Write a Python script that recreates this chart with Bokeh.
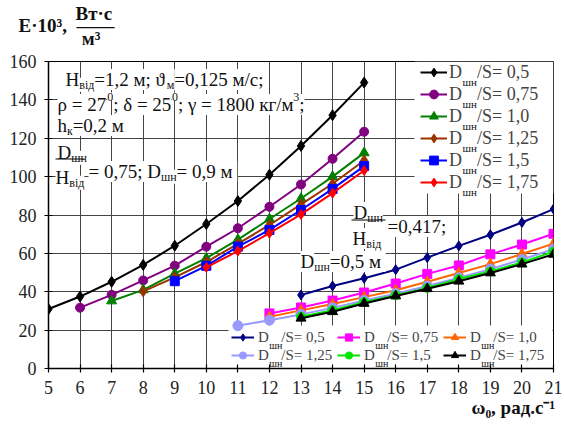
from bokeh.plotting import figure
from bokeh.models import (Range1d, FixedTicker, Label, Legend, LegendItem, Arrow, Title,
                          BoxAnnotation)
from bokeh.embed import file_html
from bokeh.resources import INLINE

# ---------------- data ----------------
x_ticks = [5, 6, 7, 8, 9, 10, 11, 12, 13, 14, 15, 16, 17, 18, 19, 20, 21]
y_ticks = [0, 20, 40, 60, 80, 100, 120, 140, 160]

# group 1: D_шн/H_від = 0,75; D_шн = 0,9 м
x1_05 = [5, 6, 7, 8, 9, 10, 11, 12, 13, 14, 15]
y1_05 = [31.0, 37.5, 45.2, 54.0, 64.0, 75.3, 87.3, 101.0, 116.0, 132.0, 149.0]
x1_075 = [6, 7, 8, 9, 10, 11, 12, 13, 14, 15]
y1_075 = [31.7, 38.4, 45.9, 53.6, 63.5, 73.1, 84.3, 95.9, 109.3, 123.4]
x1_10 = [7, 8, 9, 10, 11, 12, 13, 14, 15]
y1_10 = [35.2, 41.0, 49.4, 57.5, 67.2, 77.9, 88.6, 100.0, 112.4]
x1_125 = [8, 9, 10, 11, 12, 13, 14, 15]
y1_125 = [40.2, 47.5, 55.5, 65.0, 74.8, 85.5, 96.3, 108.4]
x1_15 = [9, 10, 11, 12, 13, 14, 15]
y1_15 = [45.5, 53.5, 63.5, 72.2, 82.6, 93.6, 105.5]
x1_175 = [10, 11, 12, 13, 14, 15]
y1_175 = [52.7, 61.2, 70.5, 80.3, 91.4, 103.2]

# group 2: D_шн/H_від = 0,417; D_шн = 0,5 м
x2_05 = [13, 14, 15, 16, 17, 18, 19, 20, 21]
y2_05 = [38.3, 43.0, 47.0, 51.5, 57.8, 63.9, 69.7, 76.1, 83.1]
x2_075 = [12, 13, 14, 15, 16, 17, 18, 19, 20, 21]
y2_075 = [28.7, 31.8, 35.4, 39.6, 44.3, 49.3, 53.7, 59.5, 64.6, 70.2]
x2_10 = [12, 13, 14, 15, 16, 17, 18, 19, 20, 21]
y2_10 = [27.0, 30.3, 33.6, 37.2, 40.8, 45.2, 49.8, 54.4, 59.7, 65.1]
x2_125 = [11, 12, 13, 14, 15, 16, 17, 18, 19, 20, 21]
y2_125 = [22.3, 25.2, 28.2, 31.6, 35.4, 39.0, 43.0, 47.3, 51.8, 56.8, 62.2]
x2_15 = [13, 14, 15, 16, 17, 18, 19, 20, 21]
y2_15 = [27.0, 30.4, 34.6, 38.2, 42.0, 46.6, 50.6, 55.3, 60.9]
x2_175 = [13, 14, 15, 16, 17, 18, 19, 20, 21]
y2_175 = [26.2, 29.6, 33.9, 37.8, 41.6, 45.5, 49.8, 54.4, 59.5]

ratio_labels = ["0,5", "0,75", "1,0", "1,25", "1,5", "1,75"]

# ---------------- figure ----------------
FONT = "Liberation Serif"
FL, FB, FR, FT = 48, 368, 553, 61  # page position of the frame edges
X0, X1, Y0, Y1 = 5, 21, 0, 160

p = figure(width=562, height=430, output_backend="svg", toolbar_location=None,
           x_range=Range1d(X0, X1), y_range=Range1d(Y0, Y1),
           min_border_left=FL, min_border_right=562 - FR, min_border_top=FT,
           min_border_bottom=430 - FB)
p.background_fill_color = "white"
p.border_fill_color = "white"
p.outline_line_color = "black"
p.outline_line_width = 1


def dx(px):  # page pixel -> data x (for decorations only)
    return X0 + (px - FL) * (X1 - X0) / (FR - FL)


def dy(py):  # page pixel -> data y (for decorations only)
    return Y0 + (FB - py) * (Y1 - Y0) / (FB - FT)


p.xaxis.ticker = FixedTicker(ticks=x_ticks)
p.yaxis.ticker = FixedTicker(ticks=y_ticks)
for ax in (p.xaxis[0], p.yaxis[0]):
    ax.axis_line_color = "black"
    ax.axis_line_width = 1.5
    ax.major_tick_line_color = "black"
    ax.major_tick_line_width = 1.2
    ax.major_tick_in = 4
    ax.major_tick_out = 4
    ax.minor_tick_line_color = None
    ax.major_label_text_font = FONT
    ax.major_label_text_font_size = "18px"
    ax.major_label_text_color = "#222222"
    ax.major_label_standoff = 8
for g in (p.xgrid[0], p.ygrid[0]):
    g.grid_line_color = "#444444"
    g.grid_line_width = 1

# white areas behind the legends (legends themselves are transparent)
p.add_layout(BoxAnnotation(left=dx(414), right=X1, bottom=dy(193), top=Y1,
                           fill_color="white", fill_alpha=1.0, line_alpha=0, level="underlay"))
p.add_layout(BoxAnnotation(left=dx(228), right=dx(552), bottom=dy(367), top=dy(325),
                           fill_color="white", fill_alpha=1.0, line_alpha=0, level="underlay"))

# ---------------- series ----------------
group1 = [
    (x1_05, y1_05, "#000000", "diamond", 11),
    (x1_075, y1_075, "#800080", "circle", 9),
    (x1_10, y1_10, "#008000", "triangle", 10),
    (x1_125, y1_125, "#993300", "diamond", 11),
    (x1_15, y1_15, "#0000FF", "square", 9),
    (x1_175, y1_175, "#FF0000", "diamond", 10),
]
group2 = [
    (x2_05, y2_05, "#000080", "diamond", 10),
    (x2_075, y2_075, "#FF00FF", "square", 9),
    (x2_10, y2_10, "#FF6600", "triangle", 10),
    (x2_125, y2_125, "#9999FF", "circle", 10),
    (x2_15, y2_15, "#00E600", "circle", 9),
    (x2_175, y2_175, "#000000", "triangle", 10),
]

SP = "\u2002\u00a0\u200a"  # room for the subscript "шн"


def draw(group):
    items = []
    for (xs, ys, col, mk, sz), lab in zip(group, ratio_labels):
        lr = p.line(xs, ys, line_color=col, line_width=2)
        sr = p.scatter(xs, ys, marker=mk, size=sz, fill_color=col, line_color=col)
        items.append(LegendItem(label="D" + SP + "/S= " + lab, renderers=[lr, sr]))
    return items


items1 = draw(group1)
items2 = draw(group2)

leg1 = Legend(items=items1, location=(420 - FL, FB - 193), orientation="vertical",
              padding=0, spacing=0, margin=0, glyph_width=27, glyph_height=22,
              label_height=22, label_width=96, label_standoff=2,
              label_text_font=FONT, label_text_font_size="18px",
              background_fill_alpha=0, border_line_alpha=0)
p.add_layout(leg1)

leg2 = Legend(items=items2, location=(228 - FL, 1), orientation="horizontal", ncols=3,
              padding=3, spacing=0, margin=0, glyph_width=23, glyph_height=18,
              label_height=18, label_width=79, label_standoff=4,
              label_text_font=FONT, label_text_font_size="15px",
              background_fill_alpha=0, border_line_alpha=0)
p.add_layout(leg2)

# ---------------- texts ----------------
WN = {' ': .25, '\u00a0': .25, '\u2002': .5, '\u200a': .1, ',': .25, ';': .278, '=': .564,
      '/': .278, '.': .25, '\u00b7': .25, '-': .333, 'D': .722, 'H': .722, 'S': .556,
      'E': .611, 'h': .5, '\u03c1': .55, '\u03b4': .5, '\u03b3': .45, '\u03d1': .6,
      '\u03c9': .7, 'в': .469, 'і': .278, 'д': .5, 'м': .625, 'с': .444, 'к': .469,
      'г': .406, 'ш': .76, 'н': .531, 'р': .5, 'а': .444, 'т': .438, 'В': .667}


def tw(s, size):
    return sum(WN.get(c, 0.5) for c in s) * size


def rich(pieces, X, Y, size, bg="white"):
    x = X
    for txt, kind in pieces:
        if kind == "n":
            fs, d = size, 0.0
        elif kind == "sub":
            fs, d = round(size * 0.64), size * 0.28
        else:
            fs, d = round(size * 0.64), -size * 0.42
        p.add_layout(Label(x=x - FL, y=FB - (Y + d), x_units="screen", y_units="screen",
                           text=txt, text_font=FONT, text_font_size=f"{fs}px",
                           text_color="#111111", text_baseline="alphabetic",
                           text_align="left", background_fill_color=bg))
        x += tw(txt, fs)
    return x


def bar(xa, xb, yy):
    p.add_layout(Arrow(end=None, start=None, x_start=dx(xa), y_start=dy(yy),
                       x_end=dx(xb), y_end=dy(yy), line_color="black", line_width=1.2))


S = 19
rich([("H", "n"), ("від", "sub"), ("=1,2 м; \u03d1", "n"), ("м", "sub"), ("=0,125 м/с;", "n")], 65, 79, S)
rich([("\u03c1 = 27", "n"), ("0", "sup"), ("; \u03b4 = 25", "n"), ("0", "sup"),
      ("; \u03b3 = 1800 кг/м", "n"), ("3", "sup"), (";", "n")], 57, 104, S)
rich([("h", "n"), ("к", "sub"), ("=0,2 м", "n")], 57, 125, S)

# left fraction
rich([("D", "n"), ("шн", "sub")], 57, 152, S)
rich([("H", "n"), ("від", "sub")], 55, 177, S)
rich([("= 0,75; D", "n"), ("шн", "sub"), (" = 0,9 м", "n")], 88, 171, S)
bar(55, 84, 158.5)

# right fraction
rich([("D", "n"), ("шн", "sub")], 353, 212, S)
rich([("H", "n"), ("від", "sub")], 352, 238, S)
rich([("=0,417;", "n")], 387, 226, S)
rich([("D", "n"), ("шн", "sub"), (" =0,5 м", "n")], 300, 261, S)
bar(351, 385, 219.5)

# subscripts "шн" inside the legend labels
for i in range(6):
    cy = 61 + 11 + 22 * i
    rich([("шн", "n")], 449 + 13.0, cy + 9.5, 11, bg=None)
for i in range(6):
    r, c = divmod(i, 3)
    cy = 367 - 3 - 9 - 18 * (1 - r)
    rich([("шн", "n")], 231 + 106 * c + 27 + 10.8, cy + 8.0, 10, bg=None)

# axis titles (side panels, so they are not clipped to the frame)
NB = "\u00a0"
ytitle = Title(text=NB * 12 + "Вт\u00b7с\n" + "E\u00b710\u00b3," + NB * 2 + "\u2014\u2014\n"
                    + NB * 13 + "\u200aм\u00b3\n" + NB,
               align="left", offset=18 - FL, vertical_align="bottom", standoff=0,
               text_font=FONT, text_font_size="19px", text_font_style="bold",
               text_color="#111111", text_line_height=0.6)
p.add_layout(ytitle, "above")

xtitle = Title(text="\u03c9\u2080, рад.с\u207b\u00b9", align="left", offset=471 - FL,
               vertical_align="top", standoff=0,
               text_font=FONT, text_font_size="19px", text_font_style="bold",
               text_color="#111111")
p.add_layout(xtitle, "below")

open("out.html", "w").write(file_html(p, INLINE))
